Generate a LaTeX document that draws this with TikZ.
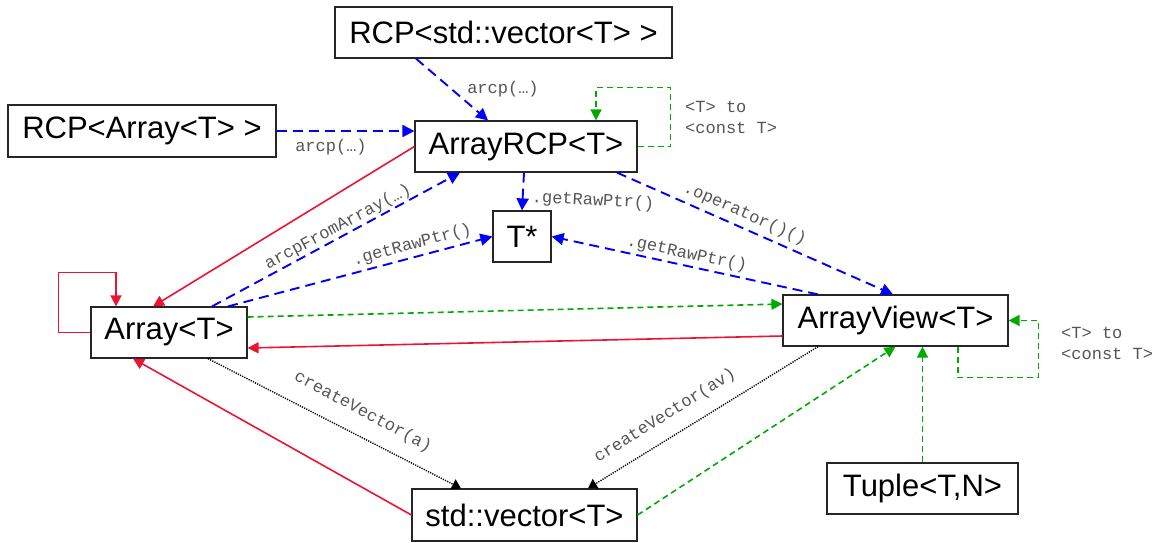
\documentclass[tikz,border=0pt]{standalone}
\usepackage{fontspec}
\setmainfont{Liberation Sans}
\newfontfamily\monof{Liberation Mono}
\usetikzlibrary{arrows.meta,calc}
\definecolor{cblue}{RGB}{0,0,250}
\definecolor{cred}{RGB}{235,20,50}
\definecolor{cgreen}{RGB}{0,170,0}
\definecolor{lblgray}{RGB}{85,85,85}
\begin{document}
\begin{tikzpicture}[x=1pt,y=-1pt,
 box/.style={draw=black!85, line width=1.2pt, fill=white, inner sep=0pt, font=\fontsize{31}{36}\selectfont},
 lbl/.style={font=\monof\fontsize{17}{21}\selectfont, text=lblgray, inner sep=0pt},
 bluedash/.style={draw=cblue, line width=1.9pt, dash pattern=on 10pt off 6pt, -{Triangle[length=12pt,width=12pt]}},
 greendash/.style={draw=cgreen, line width=1.6pt, dash pattern=on 6pt off 4pt, -{Triangle[length=11pt,width=11pt]}},
 redline/.style={draw=cred, line width=1.6pt, -{Triangle[length=11pt,width=11pt]}},
 blackdot/.style={draw=black, line width=1.4pt, dash pattern=on 1.2pt off 1.2pt, -{Triangle[length=9pt,width=11pt]}}
]
\useasboundingbox (0,0) rectangle (1165,542);

% boxes
\node[box, minimum width=337pt, minimum height=51pt] (rcpvec) at (503.5,32.5) {RCP<std::vector<T> >};
\node[box, minimum width=222pt, minimum height=51pt] (arcp) at (526,146.5) {ArrayRCP<T>};
\node[box, minimum width=268pt, minimum height=52pt] (rcparr) at (142,131) {RCP<Array<T> >};
\node[box, minimum width=156pt, minimum height=51pt] (arr) at (169,332.5) {Array<T>};
\node[box, minimum width=58pt, minimum height=51pt] (tstar) at (522,236.5) {T*};
\node[box, minimum width=225pt, minimum height=51pt] (av) at (895.5,320.5) {ArrayView<T>};
\node[box, minimum width=225pt, minimum height=52pt] (vec) at (524.5,515) {std::vector<T>};
\node[box, minimum width=191pt, minimum height=51pt] (tup) at (922.5,488.5) {Tuple<T,N>};

% blue dashed
\draw[bluedash] ([xshift=-87.5pt]rcpvec.south) -- ([xshift=-38pt]arcp.north);
\draw[bluedash] (rcparr.east) -- (rcparr.east -| arcp.west);
\draw[bluedash] ([xshift=43pt]arr.north) -- ([xshift=-66pt]arcp.south);
\draw[bluedash] ([xshift=59pt]arr.north) -- (tstar.west);
\draw[bluedash] ([xshift=-2pt]arcp.south) -- (tstar.north);
\draw[bluedash] ([xshift=91pt]arcp.south) -- ([xshift=-2.5pt]av.north);
\draw[bluedash] ([xshift=-77.5pt]av.north) -- (tstar.east);

% green dashed
\draw[greendash] (arcp.east) -- ++(33pt,0pt) |- ([xshift=70pt,yshift=33pt]arcp.north) -- ([xshift=70pt]arcp.north);
\draw[greendash] ([yshift=15.5pt]arr.east) -- ([yshift=16.5pt]av.west);
\draw[greendash] (vec.east) -- (av.south);
\draw[greendash] (tup.north) -- (tup.north |- av.south);
\draw[greendash] ([xshift=62.5pt]av.south) -- ++(0pt,-31pt) -| ([xshift=30pt]av.east) -- (av.east);

% red solid
\draw[redline] (arcp.west) -- ([xshift=-16pt]arr.north);
\draw[redline] ([yshift=-15.5pt]av.west) -- ([yshift=-15.5pt]arr.east);
\draw[redline] (arr.west) -- ++(-32pt,0pt) |- ([xshift=-53pt,yshift=34pt]arr.north) -- ([xshift=-53pt]arr.north);
\draw[redline] (vec.west) -- ([xshift=-36pt]arr.south);

% black dotted
\draw[blackdot] ([xshift=39pt]arr.south) -- ([xshift=-63.5pt]vec.north);
\draw[blackdot] ([xshift=-77.5pt]av.south) -- ([xshift=63.5pt]vec.north);

% labels
\node[lbl] (l1) at (503,89) {arcp(…)};
\node[lbl] (l2) at (331,147) {arcp(…)};
\node[lbl, anchor=west, align=left] (l3) at (685,117.5) {<T> to\\<const T>};
\node[lbl, anchor=west, align=left] (l4) at (1061,343.5) {<T> to\\<const T>};
\node[lbl, rotate=28] (l5) at (338,227) {arcpFromArray(…)};
\node[lbl, rotate=15] (l6) at (412,245) {.getRawPtr()};
\node[lbl, rotate=-3] (l7) at (593,201) {.getRawPtr()};
\node[lbl, rotate=-24] (l8) at (745,214) {.operator()()};
\node[lbl, rotate=-12] (l9) at (687,254) {.getRawPtr()};
\node[lbl, rotate=-28] (l10) at (363,412) {createVector(a)};
\node[lbl, rotate=32] (l11) at (665,416) {createVector(av)};
\end{tikzpicture}
\end{document}
